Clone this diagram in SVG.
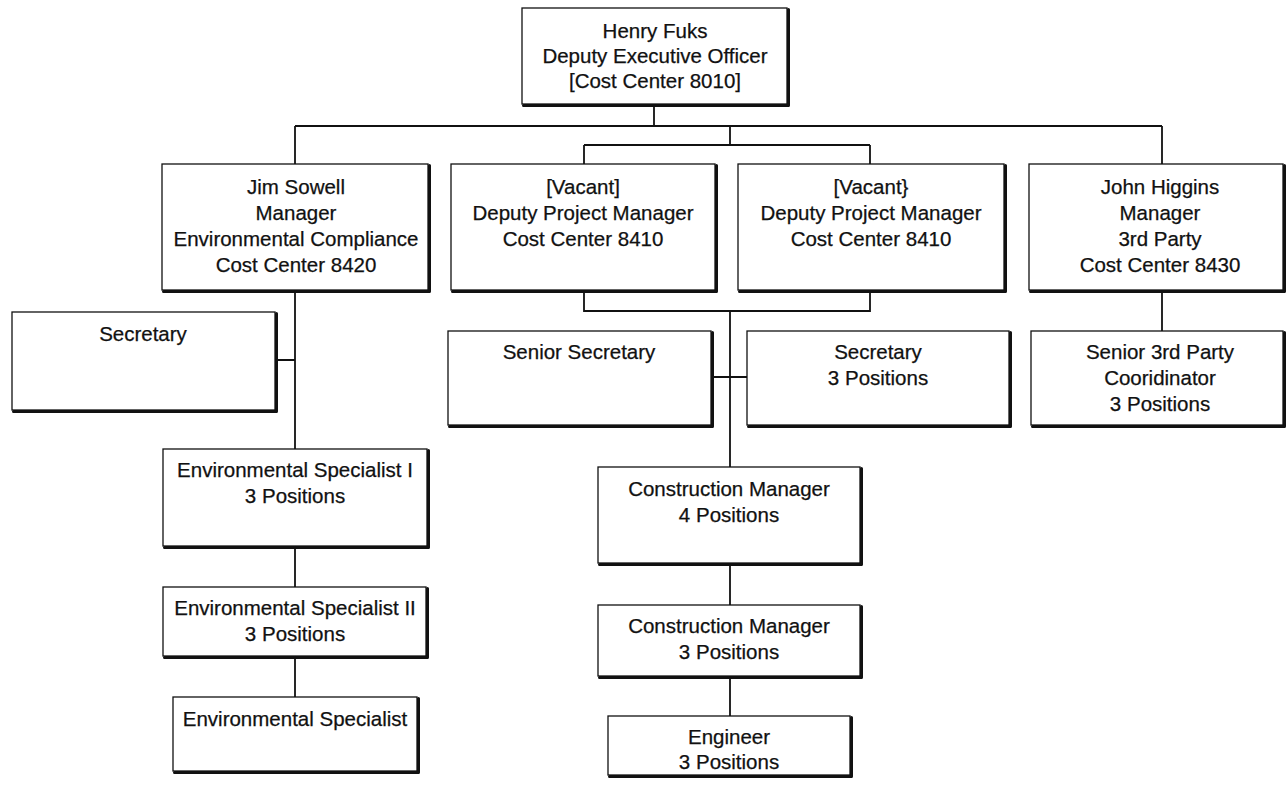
<svg xmlns="http://www.w3.org/2000/svg" width="1287" height="788" viewBox="0 0 1287 788">
<style>
.box{fill:#fff;stroke:#111;stroke-width:1.3}
.sh{fill:none;stroke:#111;stroke-width:3;stroke-linejoin:round;stroke-linecap:round}
.ln{fill:none;stroke:#111;stroke-width:1.8}
text{font-family:"Liberation Sans",Arial,sans-serif;font-size:20.5px;fill:#111;stroke:#111;stroke-width:0.25;text-anchor:middle}
</style>
<rect width="1287" height="788" fill="#fff"/>
<g id="connectors">
<path class="ln" d="M654 106V126M295 126H1162M295 126V164M1162 126V164M730 126V145M584 145H870M584 145V164M870 145V164"/>
<path class="ln" d="M584 292V311H870V292M730 311V467M713 377H747M730 565V605M730 678V716"/>
<path class="ln" d="M295 292V449M277 360H295M295 548V587M295 658V697M1162 292V331"/>
</g>
<g id="n-fuks">
<rect class="box" x="522" y="8" width="265" height="96"/>
<path class="sh" d="M523.5 105.5H788.5V9.5"/>
<text x="655" y="38">Henry Fuks</text>
<text x="655" y="63">Deputy Executive Officer</text>
<text x="655" y="88">[Cost Center 8010]</text>
</g>
<g id="n-sowell">
<rect class="box" x="162" y="164" width="266" height="126"/>
<path class="sh" d="M163.5 291.5H429.5V165.5"/>
<text x="296" y="194">Jim Sowell</text>
<text x="296" y="220">Manager</text>
<text x="296" y="246">Environmental Compliance</text>
<text x="296" y="272">Cost Center 8420</text>
</g>
<g id="n-vacant1">
<rect class="box" x="451" y="164" width="264" height="126"/>
<path class="sh" d="M452.5 291.5H716.5V165.5"/>
<text x="583" y="194">[Vacant]</text>
<text x="583" y="220">Deputy Project Manager</text>
<text x="583" y="246">Cost Center 8410</text>
</g>
<g id="n-vacant2">
<rect class="box" x="738" y="164" width="266" height="126"/>
<path class="sh" d="M739.5 291.5H1005.5V165.5"/>
<text x="871" y="194">[Vacant}</text>
<text x="871" y="220">Deputy Project Manager</text>
<text x="871" y="246">Cost Center 8410</text>
</g>
<g id="n-higgins">
<rect class="box" x="1029" y="164" width="254" height="126"/>
<path class="sh" d="M1030.5 291.5H1284.5V165.5"/>
<text x="1160" y="194">John Higgins</text>
<text x="1160" y="220">Manager</text>
<text x="1160" y="246">3rd Party</text>
<text x="1160" y="272">Cost Center 8430</text>
</g>
<g id="n-secretary-left">
<rect class="box" x="12" y="312" width="263" height="98"/>
<path class="sh" d="M13.5 411.5H276.5V313.5"/>
<text x="143" y="341">Secretary</text>
</g>
<g id="n-senior-secretary">
<rect class="box" x="448" y="331" width="263" height="94"/>
<path class="sh" d="M449.5 426.5H712.5V332.5"/>
<text x="579" y="359">Senior Secretary</text>
</g>
<g id="n-secretary-3">
<rect class="box" x="747" y="331" width="262" height="94"/>
<path class="sh" d="M748.5 426.5H1010.5V332.5"/>
<text x="878" y="359">Secretary</text>
<text x="878" y="385">3 Positions</text>
</g>
<g id="n-senior-3rd">
<rect class="box" x="1031" y="331" width="252" height="94"/>
<path class="sh" d="M1032.5 426.5H1284.5V332.5"/>
<text x="1160" y="359">Senior 3rd Party</text>
<text x="1160" y="385">Cooridinator</text>
<text x="1160" y="411">3 Positions</text>
</g>
<g id="n-env1">
<rect class="box" x="163" y="449" width="264" height="97"/>
<path class="sh" d="M164.5 547.5H428.5V450.5"/>
<text x="295" y="477">Environmental Specialist I</text>
<text x="295" y="503">3 Positions</text>
</g>
<g id="n-env2">
<rect class="box" x="163" y="587" width="263" height="69"/>
<path class="sh" d="M164.5 657.5H427.5V588.5"/>
<text x="295" y="615">Environmental Specialist II</text>
<text x="295" y="641">3 Positions</text>
</g>
<g id="n-env3">
<rect class="box" x="173" y="697" width="244" height="74"/>
<path class="sh" d="M174.5 772.5H418.5V698.5"/>
<text x="295" y="726">Environmental Specialist</text>
</g>
<g id="n-cm4">
<rect class="box" x="598" y="467" width="262" height="96"/>
<path class="sh" d="M599.5 564.5H861.5V468.5"/>
<text x="729" y="496">Construction Manager</text>
<text x="729" y="522">4 Positions</text>
</g>
<g id="n-cm3">
<rect class="box" x="598" y="605" width="262" height="71"/>
<path class="sh" d="M599.5 677.5H861.5V606.5"/>
<text x="729" y="633">Construction Manager</text>
<text x="729" y="659">3 Positions</text>
</g>
<g id="n-engineer">
<rect class="box" x="608" y="716" width="242" height="59"/>
<path class="sh" d="M609.5 776.5H851.5V717.5"/>
<text x="729" y="744">Engineer</text>
<text x="729" y="769">3 Positions</text>
</g>
</svg>
